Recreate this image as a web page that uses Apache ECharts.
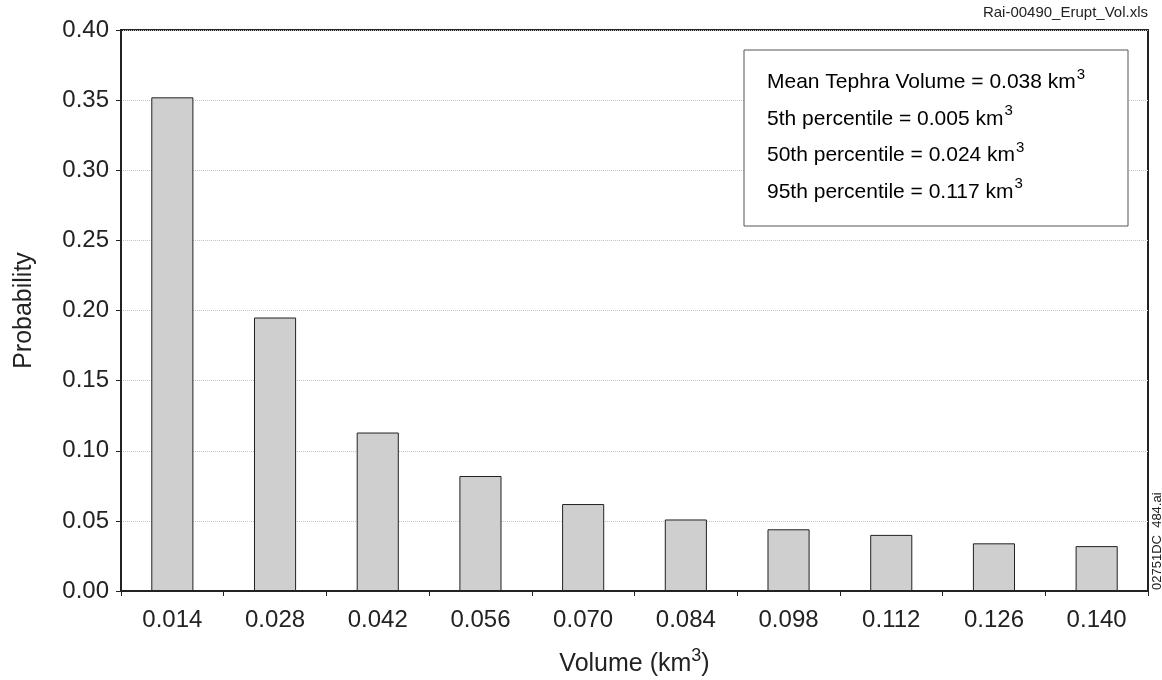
<!DOCTYPE html>
<html>
<head>
<meta charset="utf-8">
<script src="https://cdn.jsdelivr.net/npm/echarts@6/dist/echarts.min.js"></script>
<style>
html,body{margin:0;padding:0;background:#fff;}
#chart{width:1162px;height:680px;}
</style>
</head>
<body>
<div id="chart"></div>
<script>
const categories = ['0.014','0.028','0.042','0.056','0.070','0.084','0.098','0.112','0.126','0.140'];
const probability = [0.352, 0.195, 0.113, 0.082, 0.062, 0.051, 0.044, 0.040, 0.034, 0.032];
const yTicks = {min: 0, max: 0.40, interval: 0.05};
const statLines = [
  'Mean Tephra Volume = 0.038 km',
  '5th percentile = 0.005 km',
  '50th percentile = 0.024 km',
  '95th percentile = 0.117 km'
];
const fileLabel = 'Rai-00490_Erupt_Vol.xls';
const sideLabel = '02751DC_484.ai';

const FONT = '"Liberation Sans", Arial, Helvetica, sans-serif';
const chart = echarts.init(document.getElementById('chart'));

const graphics = [
  {type:'rect', shape:{x:744, y:50, width:384, height:176},
   style:{fill:'#fff', stroke:'#555', lineWidth:1}, z:10},
  {type:'text', right:14, top:5,
   style:{text:fileLabel, font:'15px ' + FONT, fill:'#222'}, z:10},
  {type:'text', x:1157, y:590, rotation:Math.PI/2,
   style:{text:sideLabel, font:'13px ' + FONT, fill:'#222', textAlign:'left', textVerticalAlign:'middle'}, z:10}
];
statLines.forEach(function(t, i){
  graphics.push({type:'text', x:767, y:80 + i*36.5,
    style:{text:'{a|' + t + '}{s|3}', textVerticalAlign:'middle',
      rich:{
        a:{fontSize:21, fontFamily:FONT, color:'#222', lineHeight:26, verticalAlign:'bottom'},
        s:{fontSize:15, fontFamily:FONT, color:'#222', lineHeight:26, verticalAlign:'top', padding:[0,0,0,1]}
      }}, z:11});
});

chart.setOption({
  animation:false,
  textStyle:{fontFamily:FONT},
  grid:{left:121, right:14, top:30, bottom:89, show:true, borderColor:'#222', borderWidth:2,
        backgroundColor:'transparent', containLabel:false, outerBoundsMode:'none'},
  xAxis:{
    type:'category', data:categories, boundaryGap:true,
    name:'{a|Volume (km}{s|3}{a|)}', nameLocation:'middle', nameGap:56,
    nameTextStyle:{color:'#222', fontFamily:FONT,
      rich:{
        a:{fontSize:25, fontFamily:FONT, color:'#222', lineHeight:30, verticalAlign:'bottom'},
        s:{fontSize:18, fontFamily:FONT, color:'#222', lineHeight:30, verticalAlign:'top'}
      }},
    axisLine:{lineStyle:{color:'#222', width:2}},
    axisTick:{show:true, alignWithLabel:false, length:5, lineStyle:{color:'#222'}},
    axisLabel:{fontSize:24, color:'#222', margin:17, fontFamily:FONT}
  },
  yAxis:{
    type:'value', min:yTicks.min, max:yTicks.max, interval:yTicks.interval,
    name:'Probability', nameLocation:'middle', nameGap:84,
    nameTextStyle:{fontSize:25, color:'#222', fontFamily:FONT},
    axisLine:{show:true, lineStyle:{color:'#222', width:2}},
    axisTick:{show:true, length:5, lineStyle:{color:'#222'}},
    axisLabel:{fontSize:24, color:'#222', margin:12, fontFamily:FONT,
      formatter:function(v){return v.toFixed(2);}},
    splitLine:{show:true, lineStyle:{color:'#c4c4c4', type:'dotted', width:1}}
  },
  series:[{
    type:'bar', data:probability, barWidth:'41%',
    itemStyle:{color:'#cfcfcf', borderColor:'#222', borderWidth:1}
  }],
  graphic:graphics
});
</script>
</body>
</html>
